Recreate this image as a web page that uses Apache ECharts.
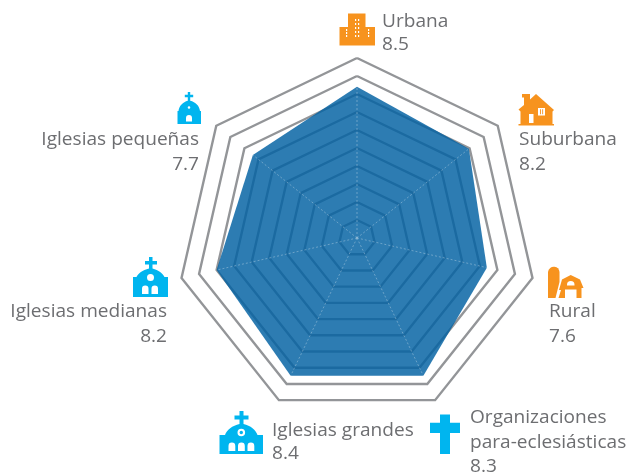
<!DOCTYPE html>
<html><head><meta charset="utf-8">
<style>html,body{margin:0;padding:0;background:#fff}#c{width:629px;height:474px}</style>
<script src="https://cdn.jsdelivr.net/npm/echarts@6/dist/echarts.min.js"></script>
</head><body><div id="c"></div>
<script>
// Clockwise from the top
const categories = ['Urbana','Suburbana','Rural','Organizaciones para-eclesiásticas','Iglesias grandes','Iglesias medianas','Iglesias pequeñas'];
const printedScores = ['8.5','8.2','7.6','8.3','8.4','8.2','7.7'];
// Radial extent of the polygon (scale 0-10)
const shapeValues = [8.4,7.95,7.4,8.5,8.5,8.0,7.4];
const axisMax = 10;
const rings = 10;

const TEXT='#6d6e71', ORANGE='#f7931e', BLUE='#00b5ef', GRAY='#939598';
const CENTER=[357,238], R=180;
const FONT='"Open Sans"';
const FS=18;

function txt(s,x,y,align){
  return {type:'text',silent:true,x,y:y+1,scaleX:1.06,style:{text:s,fill:TEXT,font:FS+'px '+FONT,textAlign:align||'left',textVerticalAlign:'middle'}};
}
let shapeId=0;
function p(d,fill){
  const name='icon'+(shapeId++);
  echarts.graphic.registerShape(name,echarts.graphic.extendPath(d,{}));
  return {type:name,silent:true,style:{fill}};
}
const W='#fff';
function win(x,y,w,h){return `M${x} ${y}h${w}v${h}h${-w}z`;}
function arch(x,yb,w,h){const r=w/2;return `M${x} ${yb}v${-(h-r)}a${r} ${r} 0 0 1 ${w} 0v${h-r}z`;}
function circ(cx,cy,r){return `M${cx-r} ${cy}a${r} ${r} 0 1 0 ${2*r} 0a${r} ${r} 0 1 0 ${-2*r} 0z`;}

const icons=[
 // building
 p('M339.5 27H348V13.5H365.5V27H375V45.5H339.5Z',ORANGE),
 p([[355,19],[358,19],[355,23],[358,23],[355,27],[358,27],[355,31],[358,31],[355,35],[358,35],[346,32],[346,35],[368,32],[368,35],[346,29],[368,29]].map(a=>win(a[0],a[1],1.2,2)).join(''),W),
 // house
 p('M536 94L554 110L552.5 111.5V124H554V125.5H518.5V124H520.5V111.5L518.5 109.5L524 105V97.5H522V94H530V99.5L536 94Z',ORANGE),
 p(win(529,114,4.5,9)+win(538,108,7,7.5),W),
 p(win(540,109.2,.9,5)+win(542.2,109.2,.9,5),ORANGE),
 // silo + barn
 p('M548 298V272A5.8 6 0 0 1 559.5 272V282L555.5 298Z',ORANGE),
 p('M570.7 275L580 279.5L583.5 288H581.5V298H576.5V289.5H565V298H558.5L561 290H559L562 279.5Z',ORANGE),
 p(arch(567,285.5,7.5,4.5),W),
 // small church
 p('M187.8 92H190.2V94.8H193.2V97.2H190.2V100.8C195.5 102 199.5 106 200 111H201V124H177.5V111H178.5C179 106 183 102 187.8 100.8V97.2H184.8V94.8H187.8Z',BLUE),
 p(circ(189,107.5,1.3)+arch(186,121.5,6,6.5),W),
 // medium church
 p('M149 257H152.5V261H157V264.5H152.5V268.5C158.5 270 163 273.5 164.5 277H168V297H133V277H136.5C138 273.5 142.5 270 149 268.5V264.5H145V261H149Z',BLUE),
 p(circ(150.5,277.5,3.5)+arch(142,294,6.5,8.5)+arch(151.5,294,6.5,8.5),W),
 // large church
 p('M239.5 411H243.5V415.5H248.5V419.5H243.5V424C250.5 425.5 256 430 257.5 435H263V454H219.5V435H225C226.5 430 232.5 425.5 239.5 424V419.5H234.5V415.5H239.5Z',BLUE),
 p(circ(241.3,432.5,3.8)+arch(228.5,451,6.8,8.5)+arch(238,451,6.8,8.5)+arch(247.5,451,6.8,8.5),W),
 p(circ(241.3,432.5,1.7),BLUE),
 // cross
 p('M440 414.5H450V422.8H460V433H450V454H440V433H430V422.8H440Z',BLUE)
];

const labels=[
 txt(categories[0],382,21), txt(printedScores[0],382,44),
 txt(categories[1],519,139), txt(printedScores[1],519,164),
 txt(categories[2],549,311), txt(printedScores[2],549,336),
 txt('Organizaciones',470,417), txt('para-eclesiásticas',470,442), txt(printedScores[3],470,466),
 txt(categories[4],272,430), txt(printedScores[4],272,453),
 txt(categories[5],167,311,'right'), txt(printedScores[5],167,336,'right'),
 txt(categories[6],199,139,'right'), txt(printedScores[6],199,164,'right')
];

// ECharts lays radar indicators out anticlockwise from the top
const ccw = a => [a[0]].concat(a.slice(1).reverse());

const spokes = shapeValues.map((v,i)=>({
  type:'line',coordinateSystem:'polar',symbol:'none',silent:true,z:5,
  lineStyle:{color:'rgba(255,255,255,.3)',width:1,type:[2,2]},
  data:[[0,i*360/categories.length],[v,i*360/categories.length]]
}));

const chart=echarts.init(document.getElementById('c'),null,{renderer:'canvas'});
chart.setOption({
  animation:false,
  backgroundColor:'#fff',
  radar:{
    center:CENTER,radius:R,startAngle:90,splitNumber:rings,shape:'polygon',
    indicator:ccw(categories).map(name=>({name,min:0,max:axisMax})),
    axisName:{show:false},
    axisLine:{show:false},axisTick:{show:false},axisLabel:{show:false},
    splitArea:{show:false},
    splitLine:{lineStyle:{color:GRAY,width:2.4}}
  },
  polar:{center:CENTER,radius:R},
  angleAxis:{type:'value',min:0,max:360,startAngle:90,clockwise:true,show:false},
  radiusAxis:{type:'value',min:0,max:axisMax,show:false},
  series:[{
    type:'radar',symbol:'none',silent:true,z:3,
    lineStyle:{width:0},
    areaStyle:{color:'#0362a2',opacity:.83},
    data:[{value:ccw(shapeValues)}]
  }].concat(spokes),
  graphic:{elements:icons.concat(labels)}
});
</script></body></html>
